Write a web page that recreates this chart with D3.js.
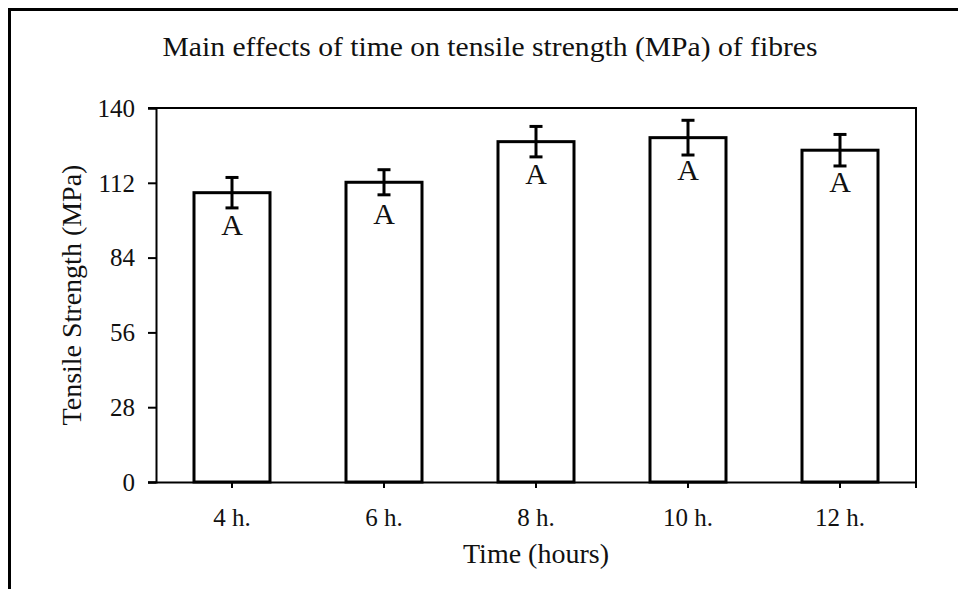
<!DOCTYPE html>
<html>
<head>
<meta charset="utf-8">
<script src="https://cdn.jsdelivr.net/npm/d3@7"></script>
<style>
  html, body { margin: 0; padding: 0; background: #fff; }
  svg { display: block; }
  text { font-family: "Liberation Serif", "Times New Roman", serif; fill: #111; }
</style>
</head>
<body>
<svg id="chart" width="958" height="589"></svg>
<script>
const categories = ["4 h.", "6 h.", "8 h.", "10 h.", "12 h."];
const means = [108.3, 112.2, 127.4, 128.9, 124.2];
const errors = [5.7, 4.7, 5.7, 6.5, 5.9];
const letters = ["A", "A", "A", "A", "A"];
const yTicks = [0, 28, 56, 84, 112, 140];
const title = "Main effects of time on tensile strength (MPa) of fibres";
const xTitle = "Time (hours)";
const yTitle = "Tensile Strength (MPa)";

const svg = d3.select("#chart");
const W = 958, H = 589;
const m = { left: 156, right: 916, top: 108, bottom: 482 };

// outer frame
svg.append("rect")
  .attr("x", 9.5).attr("y", 9.5)
  .attr("width", W + 20).attr("height", H + 20)
  .attr("fill", "none").attr("stroke", "#000").attr("stroke-width", 3);

const x = d3.scaleBand().domain(categories).range([m.left, m.right]).paddingInner(0.5).paddingOuter(0.25);
const y = d3.scaleLinear().domain([0, 140]).range([m.bottom, m.top]);

// plot border (top & right)
svg.append("path")
  .attr("d", `M${m.left - 8},${m.top}H${m.right}V${m.bottom}`)
  .attr("fill", "none").attr("stroke", "#000").attr("stroke-width", 2);

// y axis
const yAxis = svg.append("g")
  .attr("transform", `translate(${m.left},0)`)
  .call(d3.axisLeft(y).tickValues(yTicks).tickSize(8).tickPadding(13).tickFormat(d3.format("d")));
yAxis.select(".domain").attr("stroke", "#000").attr("stroke-width", 2);
yAxis.selectAll(".tick line").attr("stroke", "#000").attr("stroke-width", 2);
yAxis.selectAll(".tick text")
  .attr("font-size", 25).attr("fill", "#111")
  .attr("dy", "0.33em");

// x axis
const xAxis = svg.append("g")
  .attr("transform", `translate(0,${m.bottom})`)
  .call(d3.axisBottom(x).tickSize(6).tickSizeOuter(0).tickPadding(20));
xAxis.select(".domain").attr("stroke", "#000").attr("stroke-width", 2)
  .attr("d", `M${m.left - 8},0.5H${m.right}`);
xAxis.selectAll(".tick line").attr("stroke", "#000").attr("stroke-width", 2);
xAxis.selectAll(".tick text")
  .attr("font-size", 25).attr("fill", "#111");
// right-end tick
xAxis.append("line")
  .attr("x1", m.right).attr("x2", m.right).attr("y1", 0).attr("y2", 6)
  .attr("stroke", "#000").attr("stroke-width", 2);

// bars
const data = categories.map((c, i) => ({ c, v: means[i], e: errors[i], l: letters[i] }));
svg.append("g").selectAll("rect")
  .data(data).join("rect")
  .attr("x", d => x(d.c))
  .attr("y", d => y(d.v))
  .attr("width", x.bandwidth())
  .attr("height", d => y(0) - y(d.v))
  .attr("fill", "#fff").attr("stroke", "#000").attr("stroke-width", 3);

// error bars
const eb = svg.append("g").selectAll("g").data(data).join("g")
  .attr("stroke", "#000").attr("stroke-width", 3);
eb.append("line")
  .attr("x1", d => x(d.c) + x.bandwidth() / 2).attr("x2", d => x(d.c) + x.bandwidth() / 2)
  .attr("y1", d => y(d.v + d.e)).attr("y2", d => y(d.v - d.e));
eb.append("line")
  .attr("x1", d => x(d.c) + x.bandwidth() / 2 - 6.5).attr("x2", d => x(d.c) + x.bandwidth() / 2 + 6.5)
  .attr("y1", d => y(d.v + d.e)).attr("y2", d => y(d.v + d.e));
eb.append("line")
  .attr("x1", d => x(d.c) + x.bandwidth() / 2 - 6.5).attr("x2", d => x(d.c) + x.bandwidth() / 2 + 6.5)
  .attr("y1", d => y(d.v - d.e)).attr("y2", d => y(d.v - d.e));

// letters
svg.append("g").selectAll("text").data(data).join("text")
  .attr("x", d => x(d.c) + x.bandwidth() / 2)
  .attr("y", d => y(d.v) + 42)
  .attr("text-anchor", "middle")
  .attr("font-size", 30)
  .attr("fill", "#222")
  .text(d => d.l);

// title
svg.append("text")
  .attr("x", 490).attr("y", 56)
  .attr("text-anchor", "middle")
  .attr("font-size", 28)
  .attr("textLength", 655).attr("lengthAdjust", "spacingAndGlyphs")
  .text(title);

// x title
svg.append("text")
  .attr("x", (m.left + m.right) / 2).attr("y", 563)
  .attr("text-anchor", "middle")
  .attr("font-size", 28)
  .text(xTitle);

// y title
svg.append("text")
  .attr("transform", `translate(81,${(m.top + m.bottom) / 2}) rotate(-90)`)
  .attr("text-anchor", "middle")
  .attr("font-size", 28)
  .text(yTitle);
</script>
</body>
</html>
